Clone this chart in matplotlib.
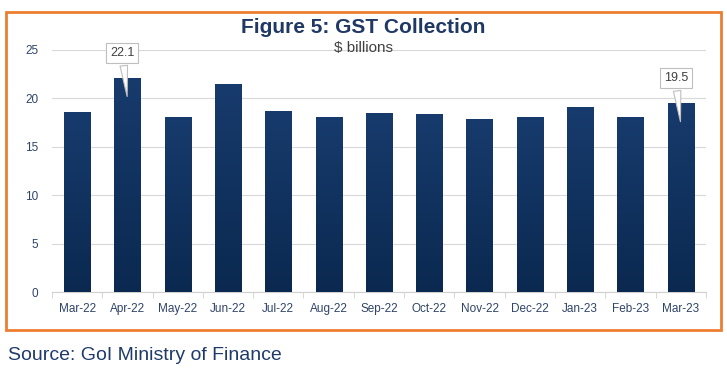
import numpy as np
import matplotlib
matplotlib.use("Agg")
import matplotlib.pyplot as plt
from matplotlib.patches import Rectangle
from matplotlib.colors import LinearSegmentedColormap

months = ["Mar-22", "Apr-22", "May-22", "Jun-22", "Jul-22", "Aug-22", "Sep-22",
          "Oct-22", "Nov-22", "Dec-22", "Jan-23", "Feb-23", "Mar-23"]
gst = [18.6, 22.1, 18.1, 21.5, 18.7, 18.1, 18.5, 18.4, 17.9, 18.1, 19.1, 18.1, 19.5]
callouts = [1, 12]

plt.rcParams['font.family'] = ['Liberation Sans', 'DejaVu Sans']

fig = plt.figure(figsize=(7.27, 3.78), dpi=100)
ax = fig.add_axes([0.0715, 0.2275, 0.8995, 0.6405])

x = np.arange(len(months))
bars = ax.bar(x, gst, width=0.52, color="#123566", zorder=2)

# soft vertical gradient inside every bar
cmap = LinearSegmentedColormap.from_list("navy", ["#0b2950", "#173b6d"])
grad = np.linspace(0, 1, 256).reshape(-1, 1)
for b in bars:
    x0, w, h = b.get_x(), b.get_width(), b.get_height()
    im = ax.imshow(grad, cmap=cmap, origin="lower", aspect="auto",
                   extent=[x0, x0 + w, 0, h], zorder=3)
    im.set_clip_path(b)

ax.set_xlim(-0.5, len(months) - 0.5)
ax.set_ylim(0, 25)
ax.set_yticks([0, 5, 10, 15, 20, 25])
ax.set_xticks(x)
ax.set_xticklabels(months)
ax.set_xticks(np.arange(-0.5, len(months), 1), minor=True)
ax.tick_params(axis="x", which="major", length=0, pad=8, labelsize=8.5, colors="#2f4468")
ax.tick_params(axis="x", which="minor", length=4, color="#d0d0d0")
ax.tick_params(axis="y", length=0, pad=10, labelsize=8.5, colors="#2f4468")
ax.grid(axis="y", color="#d9d9d9", linewidth=0.8, zorder=0)
for s in ["top", "right", "left"]:
    ax.spines[s].set_visible(False)
ax.spines["bottom"].set_color("#d0d0d0")

for i in callouts:
    ax.annotate(f"{gst[i]}", xy=(x[i], gst[i] - 2.2), xytext=(x[i] - 0.1, gst[i] + 2.6),
                ha="center", va="center", fontsize=9, color="#404040", zorder=5,
                bbox=dict(boxstyle="square,pad=0.3", fc="white", ec="#bfbfbf", lw=0.8),
                arrowprops=dict(arrowstyle="wedge,tail_width=0.6,shrink_factor=0.5",
                                fc="white", ec="#bfbfbf", lw=0.8))

fig.text(0.5, 0.927, "Figure 5: GST Collection", ha="center", va="center",
         fontsize=15, fontweight="bold", color="#1f3864")
fig.text(0.5, 0.872, "$ billions", ha="center", va="center",
         fontsize=11, color="#404040")
fig.text(0.011, 0.06, "Source: GoI Ministry of Finance", ha="left", va="center",
         fontsize=14, color="#1f3b6b")

fig.patches.append(Rectangle((0.008, 0.127), 0.984, 0.84, transform=fig.transFigure,
                             fill=False, ec="#ED7D31", lw=2))

fig.savefig("out.png", dpi=100)
